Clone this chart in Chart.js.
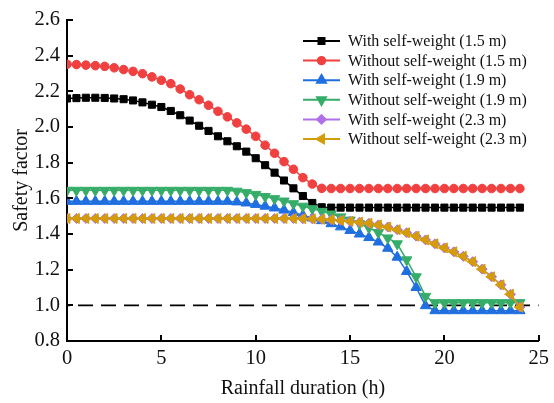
<!DOCTYPE html>
<html>
<head>
<meta charset="utf-8">
<title>Safety factor vs rainfall duration</title>
<script src="https://cdn.jsdelivr.net/npm/chart.js@4.4.0/dist/chart.umd.min.js"></script>
<style>
  html, body { margin: 0; padding: 0; background: #fff; }
  #wrap { width: 554px; height: 403px; }
</style>
</head>
<body>
<div id="wrap"><canvas id="chart"></canvas></div>
<script>
// ===== DATA =====
// rainfall duration (h), one reading every half hour
const durations = [
  0, 0.5, 1, 1.5, 2, 2.5, 3, 3.5, 4, 4.5, 5, 5.5, 6, 6.5, 7, 7.5,
  8, 8.5, 9, 9.5, 10, 10.5, 11, 11.5, 12, 12.5, 13, 13.5, 14, 14.5, 15, 15.5,
  16, 16.5, 17, 17.5, 18, 18.5, 19, 19.5, 20, 20.5, 21, 21.5, 22, 22.5, 23, 23.5, 24,
]

const withSW15 = [
  2.160, 2.162, 2.164, 2.164, 2.163, 2.160, 2.156, 2.149, 2.138, 2.125, 2.112, 2.090, 2.066, 2.036, 2.007, 1.978,
  1.948, 1.920, 1.892, 1.862, 1.825, 1.786, 1.744, 1.700, 1.656, 1.613, 1.574, 1.550, 1.548, 1.548, 1.548, 1.548,
  1.548, 1.548, 1.548, 1.548, 1.548, 1.548, 1.548, 1.548, 1.548, 1.548, 1.548, 1.548, 1.548, 1.548, 1.548, 1.548, 1.548,
]
const withoutSW15 = [
  2.352, 2.350, 2.347, 2.344, 2.340, 2.332, 2.322, 2.312, 2.299, 2.281, 2.262, 2.243, 2.213, 2.181, 2.153, 2.122,
  2.088, 2.057, 2.023, 1.988, 1.948, 1.898, 1.853, 1.806, 1.763, 1.716, 1.680, 1.656, 1.655, 1.655, 1.655, 1.655,
  1.655, 1.655, 1.655, 1.655, 1.655, 1.655, 1.655, 1.655, 1.655, 1.655, 1.655, 1.655, 1.655, 1.655, 1.655, 1.655, 1.655,
]
const withSW19 = [
  1.583, 1.583, 1.583, 1.583, 1.583, 1.583, 1.583, 1.583, 1.583, 1.583, 1.583, 1.583, 1.583, 1.583, 1.583, 1.583,
  1.583, 1.583, 1.580, 1.574, 1.566, 1.556, 1.546, 1.534, 1.520, 1.505, 1.490, 1.475, 1.458, 1.440, 1.420, 1.400,
  1.380, 1.355, 1.320, 1.270, 1.190, 1.100, 0.998, 0.970, 0.970, 0.970, 0.970, 0.970, 0.970, 0.970, 0.970, 0.970, 0.970,
]
const withoutSW19 = [
  1.645, 1.645, 1.645, 1.645, 1.645, 1.645, 1.645, 1.645, 1.645, 1.645, 1.645, 1.645, 1.645, 1.645, 1.645, 1.645,
  1.645, 1.645, 1.640, 1.632, 1.622, 1.610, 1.598, 1.585, 1.570, 1.556, 1.542, 1.527, 1.512, 1.496, 1.478, 1.458,
  1.435, 1.408, 1.378, 1.345, 1.255, 1.160, 1.050, 1.015, 1.015, 1.015, 1.015, 1.015, 1.015, 1.015, 1.015, 1.015, 1.015,
]
const withSW23 = [
  1.487, 1.487, 1.487, 1.487, 1.487, 1.487, 1.487, 1.487, 1.487, 1.487, 1.487, 1.487, 1.487, 1.487, 1.487, 1.487,
  1.487, 1.487, 1.487, 1.487, 1.487, 1.487, 1.487, 1.487, 1.487, 1.486, 1.485, 1.483, 1.480, 1.476, 1.471, 1.466,
  1.460, 1.451, 1.439, 1.424, 1.407, 1.388, 1.367, 1.345, 1.322, 1.300, 1.275, 1.245, 1.203, 1.160, 1.115, 1.062, 0.990,
]
const withoutSW23 = [
  1.487, 1.487, 1.487, 1.487, 1.487, 1.487, 1.487, 1.487, 1.487, 1.487, 1.487, 1.487, 1.487, 1.487, 1.487, 1.487,
  1.487, 1.487, 1.487, 1.487, 1.487, 1.487, 1.487, 1.487, 1.487, 1.486, 1.485, 1.483, 1.480, 1.476, 1.471, 1.466,
  1.460, 1.451, 1.439, 1.424, 1.407, 1.388, 1.367, 1.345, 1.322, 1.300, 1.275, 1.245, 1.203, 1.160, 1.115, 1.062, 0.990,
]

// critical safety factor line
const limitX = [0, 25]
const limitY = [1.0, 1.0]

const seriesLabels = [
  'With self-weight (1.5 m)',
  'Without self-weight (1.5 m)',
  'With self-weight (1.9 m)',
  'Without self-weight (1.9 m)',
  'With self-weight (2.3 m)',
  'Without self-weight (2.3 m)',
]
const xTicks = [0, 5, 10, 15, 20, 25]
const yTicks = [0.8, 1.0, 1.2, 1.4, 1.6, 1.8, 2.0, 2.2, 2.4, 2.6]

// ===== STYLES =====
const FONT = '"Liberation Serif", "Times New Roman", serif'
const seriesStyles = [
  { color: '#000000', pointStyle: 'rect', rotation: 0, radius: 5, order: 3 },
  { color: '#f04040', pointStyle: 'circle', rotation: 0, radius: 4.3, order: 3 },
  { color: '#1f6fe0', pointStyle: 'triangle', rotation: 0, radius: 6, order: 3 },
  { color: '#35ad68', pointStyle: 'triangle', rotation: 180, radius: 6, order: 2 },
  { color: '#b070e8', pointStyle: 'rectRot', rotation: 0, radius: 5, order: 1 },
  { color: '#d49c0a', pointStyle: 'triangle', rotation: 270, radius: 5.8, order: 0 },
]
const seriesData = [withSW15, withoutSW15, withSW19, withoutSW19, withSW23, withoutSW23]

function toPoints(xs, ys) {
  return xs.map((x, i) => ({ x: x, y: ys[i] }))
}

// ===== PLUGINS =====
// ticks pointing into the plot area
const inwardTicks = {
  id: 'inwardTicks',
  afterDraw(chart) {
    const ctx = chart.ctx
    const xs = chart.scales.x
    const ys = chart.scales.y
    const area = chart.chartArea
    ctx.save()
    ctx.strokeStyle = '#000'
    ctx.lineWidth = 2
    ctx.beginPath()
    xTicks.forEach((v) => {
      const px = Math.round(xs.getPixelForValue(v))
      ctx.moveTo(px, area.bottom)
      ctx.lineTo(px, area.bottom - 6)
    })
    yTicks.forEach((v) => {
      const py = Math.round(ys.getPixelForValue(v))
      ctx.moveTo(area.left, py)
      ctx.lineTo(area.left + 6, py)
    })
    ctx.stroke()
    ctx.restore()
  },
}

// legend with a line sample and marker, like the plotted series
const lineLegend = {
  id: 'lineLegend',
  afterDraw(chart) {
    const ctx = chart.ctx
    const x0 = 303
    const x1 = 340
    const textX = 348
    const top = 41
    const rowH = 19.6
    ctx.save()
    ctx.font = '16px ' + FONT
    ctx.textBaseline = 'middle'
    ctx.textAlign = 'left'
    seriesLabels.forEach((label, i) => {
      const st = seriesStyles[i]
      const y = top + i * rowH
      ctx.strokeStyle = st.color
      ctx.fillStyle = st.color
      ctx.lineWidth = 2
      ctx.beginPath()
      ctx.moveTo(x0, y)
      ctx.lineTo(x1, y)
      ctx.stroke()
      Chart.helpers.drawPoint(ctx, {
        pointStyle: st.pointStyle,
        rotation: st.rotation,
        radius: st.radius * 0.85,
        borderWidth: 1,
      }, (x0 + x1) / 2, y)
      ctx.fillStyle = '#111'
      ctx.fillText(label, textX, y + 1)
    })
    ctx.restore()
  },
}

// ===== CHART =====
const datasets = seriesData.map((values, i) => {
  const st = seriesStyles[i]
  return {
    label: seriesLabels[i],
    data: toPoints(durations, values),
    borderColor: st.color,
    backgroundColor: st.color,
    borderWidth: 1.5,
    pointStyle: st.pointStyle,
    pointRotation: st.rotation,
    pointRadius: st.radius,
    pointBorderWidth: 1,
    pointBorderColor: st.color,
    pointBackgroundColor: st.color,
    order: st.order,
    tension: 0,
  }
})

datasets.push({
  label: 'limit',
  data: toPoints(limitX, limitY),
  borderColor: '#000',
  borderWidth: 1.8,
  borderDash: [15, 8],
  borderDashOffset: 12,
  pointRadius: 0,
  order: 4,
})

new Chart(document.getElementById('chart'), {
  type: 'line',
  data: { datasets: datasets },
  options: {
    responsive: true,
    maintainAspectRatio: false,
    animation: false,
    layout: { padding: { top: 20, right: 11, left: 0, bottom: 0 } },
    plugins: {
      legend: { display: false },
      tooltip: { enabled: false },
    },
    scales: {
      x: {
        type: 'linear',
        min: 0,
        max: 25,
        afterFit(scale) { scale.height = 62 },
        afterBuildTicks(scale) { scale.ticks = xTicks.map((v) => ({ value: v })) },
        ticks: {
          color: '#111',
          font: { family: FONT, size: 20.5 },
          padding: 5,
          maxRotation: 0,
        },
        grid: { display: false, drawTicks: false },
        border: { display: true, color: '#000', width: 2 },
        title: {
          display: true,
          text: 'Rainfall duration (h)',
          color: '#111',
          font: { family: FONT, size: 20 },
          padding: { top: 0, bottom: 2 },
        },
      },
      y: {
        min: 0.8,
        max: 2.6,
        afterFit(scale) { scale.width = 67 },
        afterBuildTicks(scale) { scale.ticks = yTicks.map((v) => ({ value: v })) },
        ticks: {
          color: '#111',
          font: { family: FONT, size: 20.5 },
          padding: 7,
          callback: (v) => Number(v).toFixed(1),
        },
        grid: { display: false, drawTicks: false },
        border: { display: true, color: '#000', width: 2 },
        title: {
          display: true,
          text: 'Safety factor',
          color: '#111',
          font: { family: FONT, size: 20 },
          padding: { top: 10, bottom: 0 },
        },
      },
    },
  },
  plugins: [inwardTicks, lineLegend],
})
</script>
</body>
</html>
